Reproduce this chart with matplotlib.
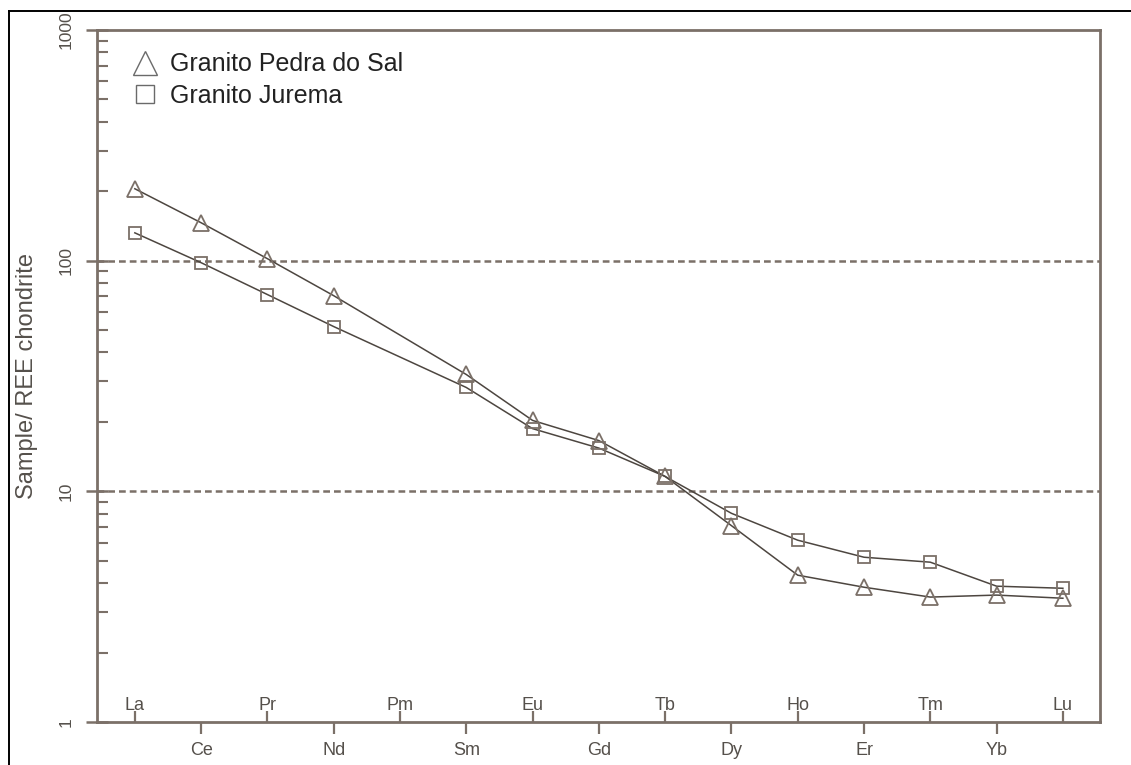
import matplotlib
matplotlib.use("Agg")
import matplotlib.pyplot as plt
from matplotlib.lines import Line2D
from matplotlib.ticker import FixedLocator, LogLocator, NullFormatter
import numpy as np

plt.rcParams["font.family"] = ["Liberation Sans", "DejaVu Sans"]

# REE order along the x axis
elements = ["La", "Ce", "Pr", "Nd", "Pm", "Sm", "Eu", "Gd",
            "Tb", "Dy", "Ho", "Er", "Tm", "Yb", "Lu"]

# chondrite-normalised values (Pm not analysed)
pedra_do_sal = [205, 146, 102, 70.5, np.nan, 32.1, 20.3, 16.6,
                11.6, 7.1, 4.33, 3.84, 3.48, 3.55, 3.44]
jurema = [132, 98, 71.3, 51.8, np.nan, 28.2, 18.7, 15.4,
          11.6, 8.03, 6.14, 5.18, 4.93, 3.88, 3.80]

series_names = ["Granito Pedra do Sal", "Granito Jurema"]

AX_COLOR = "#7b7068"
LINE_COLOR = "#4d4640"
TEXT_COLOR = "#55504b"

fig = plt.figure(figsize=(11.31, 7.65), dpi=100)
ax = fig.add_axes([0.0858, 0.0562, 0.8868, 0.9046])

x = np.arange(len(elements))


def draw_series(values, marker, size):
    v = np.array(values, dtype=float)
    ok = ~np.isnan(v)
    ax.plot(x[ok], v[ok], color=LINE_COLOR, lw=1.1, zorder=3)
    ax.plot(x[ok], v[ok], ls="none", marker=marker, ms=size, mfc="none",
            mec=AX_COLOR, mew=1.3, zorder=4)


draw_series(pedra_do_sal, "^", 11)
draw_series(jurema, "s", 8.5)

# reference levels
for lvl in (10, 100):
    ax.axhline(lvl, color=AX_COLOR, lw=1.8, ls=(0, (2.7, 1.6)), zorder=2)

ax.set_yscale("log")
ax.set_ylim(1, 1000)
ax.set_xlim(-0.57, 14.56)

for side in ("left", "right", "top", "bottom"):
    ax.spines[side].set_color(AX_COLOR)
    ax.spines[side].set_linewidth(2.0)

# y ticks: decades cross the axis, minors point inward
ax.yaxis.set_major_locator(FixedLocator([1, 10, 100, 1000]))
ax.yaxis.set_minor_locator(LogLocator(base=10, subs=np.arange(2, 10)))
ax.yaxis.set_minor_formatter(NullFormatter())
ax.set_yticks([1, 10, 100, 1000], labels=["1", "10", "100", "1000"])
ax.tick_params(axis="y", which="major", direction="inout", length=16,
               width=1.8, color=AX_COLOR, labelsize=12.5, labelcolor=TEXT_COLOR,
               pad=9)
ax.tick_params(axis="y", which="minor", direction="in", length=8,
               width=1.5, color=AX_COLOR)
for lab in ax.get_yticklabels():
    lab.set_rotation(90)
    lab.set_va("center")

# x ticks: odd elements below the axis, even elements inside above it
ax.set_xticks(x[1::2], labels=elements[1::2])
ax.set_xticks(x[0::2], labels=elements[0::2], minor=True)
ax.tick_params(axis="x", which="major", direction="out", length=8.5,
               width=1.6, color=AX_COLOR, labelsize=13, labelcolor=TEXT_COLOR,
               pad=6)
ax.tick_params(axis="x", which="minor", direction="in", length=8,
               width=1.6, color=AX_COLOR, labelsize=13, labelcolor=TEXT_COLOR,
               pad=-18)

ax.set_ylabel("Sample/ REE chondrite", fontsize=17, color=TEXT_COLOR,
              labelpad=15)

handles = [
    Line2D([], [], ls="none", marker="^", ms=17.5, mfc="none", mec="#6a6a6a",
           mew=1.0),
    Line2D([], [], ls="none", marker="s", ms=12.5, mfc="none", mec="#6a6a6a",
           mew=1.0),
]
ax.legend(handles, series_names, loc="upper left",
          bbox_to_anchor=(0.033, 0.9675), frameon=False, fontsize=18,
          handlelength=1.2, handletextpad=0.4, labelspacing=0.3,
          borderpad=0, borderaxespad=0, labelcolor="#222222")

# outer frame lines of the figure panel
fig.add_artist(Line2D([9 / 1131, 9 / 1131], [0, 1 - 10.5 / 765],
                      transform=fig.transFigure, color="black", lw=1.4))
fig.add_artist(Line2D([9 / 1131, 1], [1 - 10.5 / 765, 1 - 10.5 / 765],
                      transform=fig.transFigure, color="black", lw=1.4))

fig.savefig("out.png", dpi=100)
